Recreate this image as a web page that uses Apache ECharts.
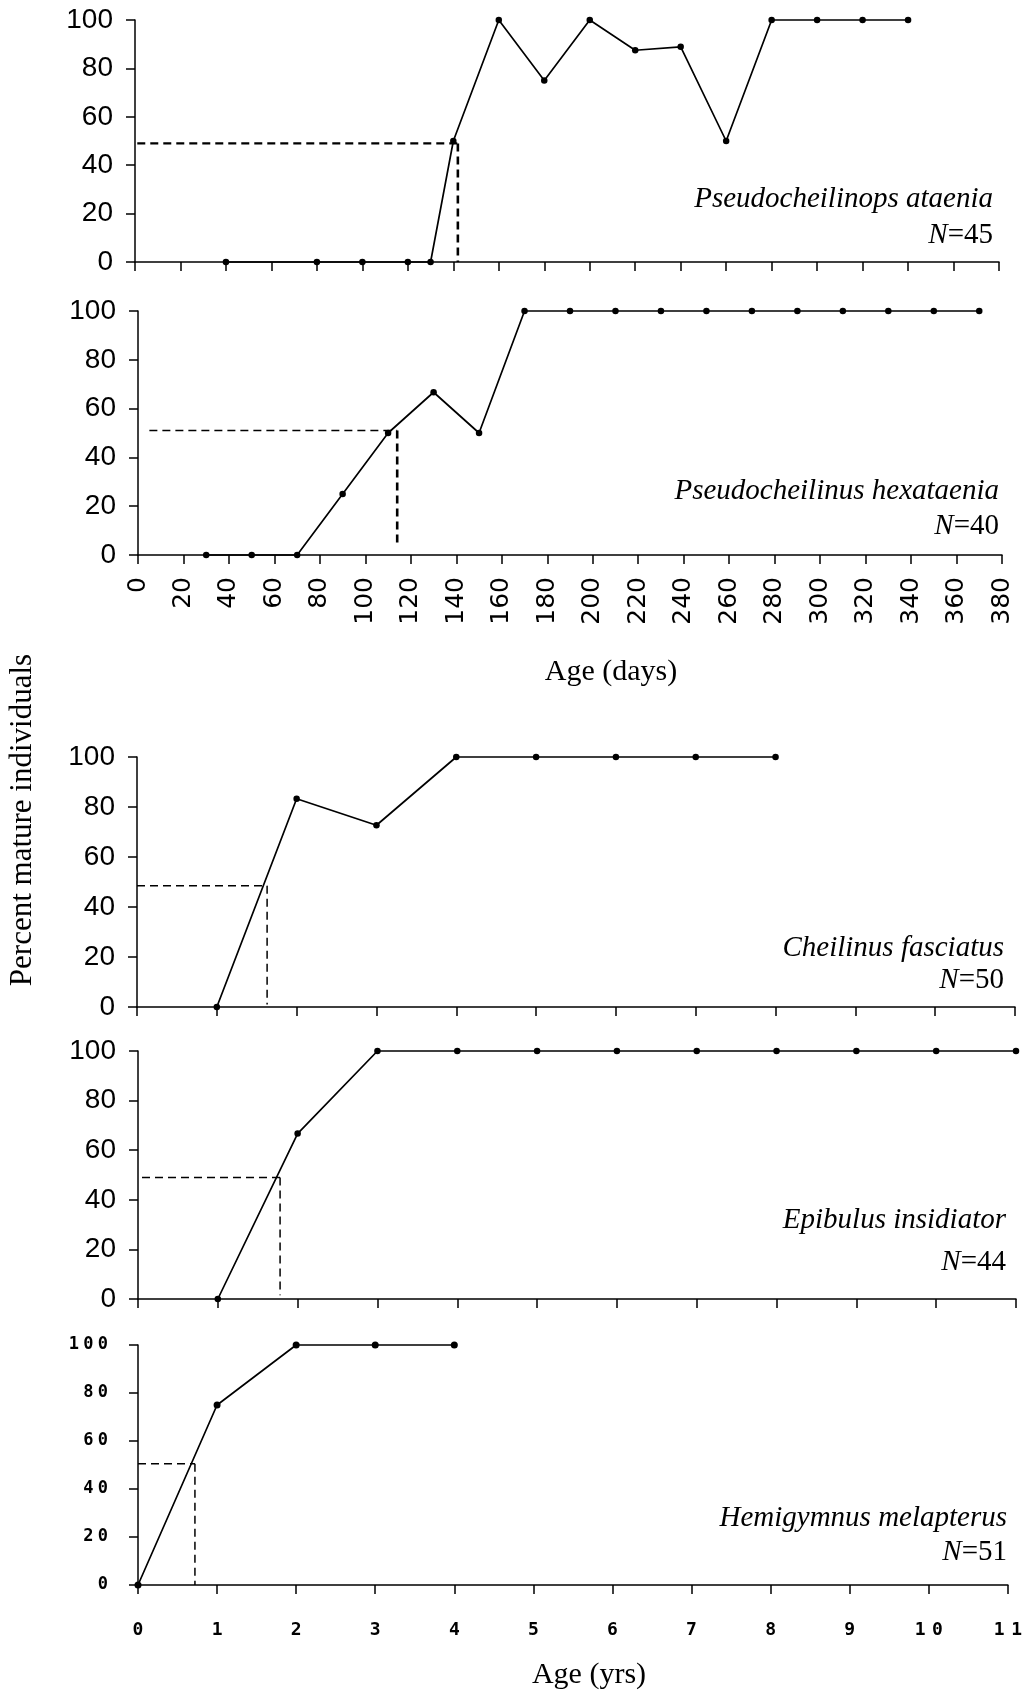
<!DOCTYPE html>
<html>
<head>
<meta charset="utf-8">
<script src="https://cdn.jsdelivr.net/npm/echarts@6/dist/echarts.min.js"></script>
<style>
html,body{margin:0;padding:0;background:#fff;}
#c{width:1025px;height:1695px;}
</style>
</head>
<body>
<div id="c"></div>
<script>
// ---- data ----
const yTicks = [0, 20, 40, 60, 80, 100];
const dayTicks = [0,20,40,60,80,100,120,140,160,180,200,220,240,260,280,300,320,340,360,380];
const yearTicks = [0,1,2,3,4,5,6,7,8,9,10,11];

const ataeniaAge = [40, 80, 100, 120, 130, 140, 160, 180, 200, 220, 240, 260, 280, 300, 320, 340];
const ataeniaPct = [0, 0, 0, 0, 0, 50, 100, 75, 100, 87.5, 88.9, 50, 100, 100, 100, 100];
const ataeniaMat = [[1, 49], [142, 49], [142, 0]];

const hexaAge = [30, 50, 70, 90, 110, 130, 150, 170, 190, 210, 230, 250, 270, 290, 310, 330, 350, 370];
const hexaPct = [0, 0, 0, 25, 50, 66.7, 50, 100, 100, 100, 100, 100, 100, 100, 100, 100, 100, 100];
const hexaMat = [[5, 51], [114, 51], [114, 5]];

const fasciatusAge = [1, 2, 3, 4, 5, 6, 7, 8];
const fasciatusPct = [0, 83.3, 72.7, 100, 100, 100, 100, 100];
const fasciatusMat = [[0, 48.5], [1.63, 48.5], [1.63, 1]];

const epibulusAge = [1, 2, 3, 4, 5, 6, 7, 8, 9, 10, 11];
const epibulusPct = [0, 66.7, 100, 100, 100, 100, 100, 100, 100, 100, 100];
const epibulusMat = [[0.05, 49], [1.78, 49], [1.78, 1.5]];

const hemiAge = [0, 1, 2, 3, 4];
const hemiPct = [0, 75, 100, 100, 100];
const hemiMat = [[0, 50.5], [0.72, 50.5], [0.72, 0]];

const panels = [
  {name: 'Pseudocheilinops ataenia', n: '45', age: ataeniaAge, pct: ataeniaPct, mat: ataeniaMat},
  {name: 'Pseudocheilinus hexataenia', n: '40', age: hexaAge, pct: hexaPct, mat: hexaMat},
  {name: 'Cheilinus fasciatus', n: '50', age: fasciatusAge, pct: fasciatusPct, mat: fasciatusMat},
  {name: 'Epibulus insidiator', n: '44', age: epibulusAge, pct: epibulusPct, mat: epibulusMat},
  {name: 'Hemigymnus melapterus', n: '51', age: hemiAge, pct: hemiPct, mat: hemiMat}
];

// ---- layout ----
const grids = [
  {left: 135, top: 20, width: 864, height: 242},
  {left: 138, top: 311, width: 864, height: 244},
  {left: 137, top: 757, width: 878, height: 250},
  {left: 138, top: 1051, width: 878, height: 248},
  {left: 138, top: 1345, width: 874, height: 240}
];
const labelPos = [
  {x: 993, y1: 199, y2: 235},
  {x: 999, y1: 491, y2: 526},
  {x: 1004, y1: 948, y2: 980},
  {x: 1006, y1: 1220, y2: 1262},
  {x: 1007, y1: 1518, y2: 1552}
];

const BLACK = '#000';
const axisLine = {show: true, onZero: false, lineStyle: {color: BLACK, width: 1.5}};
const axisTick = {show: true, length: 9, lineStyle: {color: BLACK, width: 1.5}};
const spaced = v => String(v).split('').map(d => '{d|' + d + '}').join('{s| }');

const xAxes = [], yAxes = [], series = [];
panels.forEach((p, i) => {
  const days = i < 2;
  const ticks = days ? dayTicks : yearTicks;
  const xa = {
    type: 'value', gridIndex: i,
    min: ticks[0], max: ticks[ticks.length - 1], interval: ticks[1] - ticks[0],
    axisLine, axisTick, splitLine: {show: false},
    axisLabel: {show: false}
  };
  if (i === 1) {
    xa.axisLabel = {show: true, rotate: 90, margin: 22, color: BLACK,
      fontFamily: 'DejaVu Sans', fontSize: 25};
  }
  if (i === 4) {
    xa.axisLabel = {show: true, margin: 36, color: BLACK,
      formatter: spaced,
      rich: {d: {fontFamily: 'DejaVu Sans Mono', fontWeight: 'bold', fontSize: 18, color: BLACK},
             s: {fontFamily: 'DejaVu Sans Mono', fontSize: 11, color: BLACK}}};
  }
  xAxes.push(xa);
  const ya = {
    type: 'value', gridIndex: i,
    min: yTicks[0], max: yTicks[yTicks.length - 1], interval: yTicks[1] - yTicks[0],
    axisLine, axisTick, splitLine: {show: false},
    axisLabel: {show: true, margin: 22, color: BLACK, fontFamily: 'Liberation Sans', fontSize: 28}
  };
  if (i === 4) {
    ya.axisLabel = {show: true, margin: 30, color: BLACK,
      formatter: spaced,
      rich: {d: {fontFamily: 'DejaVu Sans Mono', fontWeight: 'bold', fontSize: 17, color: BLACK},
             s: {fontFamily: 'DejaVu Sans Mono', fontSize: 7, color: BLACK}}};
  }
  yAxes.push(ya);

  series.push({
    type: 'line', xAxisIndex: i, yAxisIndex: i,
    data: p.age.map((a, k) => [a, p.pct[k]]),
    symbol: 'circle', symbolSize: i === 4 ? 7 : 6.5,
    itemStyle: {color: BLACK},
    lineStyle: {color: BLACK, width: 1.7},
    clip: false, z: 3
  });
  const dashW = i === 0 ? 2.4 : 1.5;
  series.push({
    type: 'line', xAxisIndex: i, yAxisIndex: i,
    data: p.mat.slice(0, 2), symbol: 'none',
    lineStyle: {color: BLACK, width: dashW, type: [8, 5]}, z: 2
  });
  series.push({
    type: 'line', xAxisIndex: i, yAxisIndex: i,
    data: p.mat.slice(1), symbol: 'none',
    lineStyle: {color: BLACK, width: (i <= 1) ? 2.6 : 1.5, type: [8, 5]}, z: 2
  });
});

const graphic = [];
panels.forEach((p, i) => {
  const lp = labelPos[i];
  graphic.push({type: 'text', x: lp.x, y: lp.y1, style: {
    text: p.name, align: 'right', verticalAlign: 'middle',
    font: 'italic 29px "Liberation Serif"', fill: BLACK}});
  graphic.push({type: 'text', x: lp.x, y: lp.y2, style: {
    text: '{i|N}{r|=' + p.n + '}', align: 'right', verticalAlign: 'middle',
    rich: {i: {fontFamily: 'Liberation Serif', fontStyle: 'italic', fontSize: 29, color: BLACK},
           r: {fontFamily: 'Liberation Serif', fontSize: 29, color: BLACK}}}});
});
graphic.push({type: 'text', x: 611, y: 672, style: {
  text: 'Age (days)', align: 'center', verticalAlign: 'middle',
  font: '30px "Liberation Serif"', fill: BLACK}});
graphic.push({type: 'text', x: 589, y: 1675, style: {
  text: 'Age (yrs)', align: 'center', verticalAlign: 'middle',
  font: '30px "Liberation Serif"', fill: BLACK}});
graphic.push({type: 'text', x: 23, y: 820, rotation: Math.PI / 2, style: {
  text: 'Percent mature individuals', align: 'center', verticalAlign: 'middle',
  font: '31px "Liberation Serif"', fill: BLACK}});

const chart = echarts.init(document.getElementById('c'), null, {renderer: 'canvas'});
chart.setOption({
  animation: false,
  backgroundColor: '#fff',
  grid: grids,
  xAxis: xAxes,
  yAxis: yAxes,
  series: series,
  graphic: graphic
});
</script>
</body>
</html>
